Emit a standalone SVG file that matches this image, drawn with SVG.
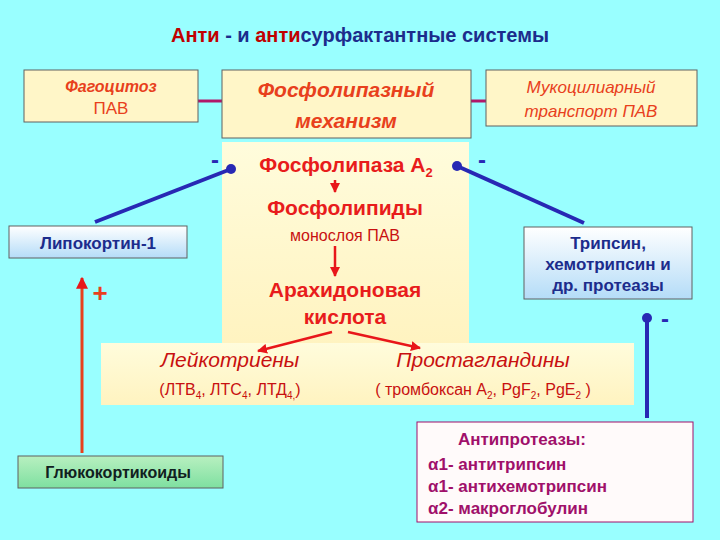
<svg xmlns="http://www.w3.org/2000/svg" width="720" height="540" viewBox="0 0 720 540">
<defs>
<marker id="ar" viewBox="0 0 10 10" refX="9" refY="5" markerWidth="4" markerHeight="4" orient="auto"><path d="M0,0L10,5L0,10z" fill="#e8161a"/></marker>
<marker id="dot" viewBox="0 0 10 10" refX="5" refY="5" markerWidth="2.5" markerHeight="2.5"><circle cx="5" cy="5" r="5" fill="#2828b4"/></marker>
<linearGradient id="pale" x1="0" y1="0" x2="0" y2="1"><stop offset="0" stop-color="#fffcdc"/><stop offset="1" stop-color="#fff3c0"/></linearGradient>
<linearGradient id="blu" x1="0" y1="0" x2="0" y2="1"><stop offset="0" stop-color="#ffffff"/><stop offset="1" stop-color="#b4dcf8"/></linearGradient>
<linearGradient id="grn" x1="0" y1="0" x2="0" y2="1"><stop offset="0" stop-color="#b8f0c0"/><stop offset="1" stop-color="#7ee0a0"/></linearGradient>
</defs>
<style>
text{font-family:"Liberation Sans",Arial,sans-serif;text-anchor:middle}
.box{stroke:#606060;stroke-width:1}
.r{fill:#e81c1c;font-weight:bold}
.ri{fill:#e8401c;font-weight:bold;font-style:italic}
.b{fill:#1c2c8c;font-weight:bold}
.bl{stroke:#2828b4;stroke-width:4;fill:none}
.rl{stroke:#e8161a;stroke-width:2.5;fill:none}
.m{fill:#a0106a;font-weight:bold;text-anchor:start}
</style>
<rect width="720" height="540" fill="#99ffff"/>
<text x="360" y="42" font-size="20" font-weight="bold"><tspan fill="#c00000">Анти</tspan><tspan fill="#1c2c8c"> - и </tspan><tspan fill="#c00000">анти</tspan><tspan fill="#1c2c8c">сурфактантные системы</tspan></text>
<rect x="222" y="142" width="247" height="203" fill="url(#pale)"/>
<rect x="101" y="343" width="533" height="62" fill="url(#pale)"/>
<g id="conn">
<line x1="198" y1="101" x2="222" y2="101" stroke="#b0186a" stroke-width="3"/>
<line x1="471" y1="101" x2="486" y2="101" stroke="#b0186a" stroke-width="3"/>
<line class="bl" x1="95" y1="222" x2="231" y2="169" marker-end="url(#dot)"/>
<line class="bl" x1="584" y1="223" x2="457" y2="166" marker-end="url(#dot)"/>
<line class="bl" x1="647" y1="418" x2="647" y2="318" marker-end="url(#dot)"/>
<line x1="82" y1="453" x2="82" y2="278" stroke="#e8401c" stroke-width="3" marker-end="url(#ar)"/>
<line class="rl" x1="335" y1="180" x2="335" y2="192" marker-end="url(#ar)"/>
<line class="rl" x1="335" y1="246" x2="335" y2="276" marker-end="url(#ar)"/>
<line class="rl" x1="332" y1="332" x2="258" y2="351" marker-end="url(#ar)"/>
<line class="rl" x1="348" y1="332" x2="420" y2="348" marker-end="url(#ar)"/>
</g>
<text x="215" y="168" font-size="24" font-weight="bold" fill="#2828b4">-</text>
<text x="482" y="168" font-size="24" font-weight="bold" fill="#2828b4">-</text>
<text x="665" y="327" font-size="24" font-weight="bold" fill="#2828b4">-</text>
<text x="100" y="302" font-size="26" font-weight="bold" fill="#e8401c">+</text>
<g id="fago"><rect class="box" x="24" y="70" width="174" height="52" fill="#fff6c8"/>
<text class="ri" x="111" y="92" font-size="16">Фагоцитоз</text><text x="111" y="114" font-size="17" fill="#e8401c">ПАВ</text></g>
<g id="phos"><rect class="box" x="222" y="70" width="249" height="68" fill="#fff6c8"/>
<text class="ri" x="346" y="97" font-size="21">Фосфолипазный</text><text class="ri" x="346" y="128" font-size="21">механизм</text></g>
<g id="muco"><rect class="box" x="486" y="70" width="211" height="56" fill="#fff6c8"/>
<text x="591" y="93" font-size="17" font-style="italic" fill="#e8401c">Мукоцилиарный</text><text x="591" y="117" font-size="17" font-style="italic" fill="#e8401c">транспорт ПАВ</text></g>
<g id="pla2"><text class="r" x="346" y="172" font-size="21" fill="#e8401c">Фосфолипаза А<tspan font-size="13" dy="5">2</tspan></text></g>
<g id="plip"><text class="r" x="345" y="215" font-size="21" fill="#c81010">Фосфолипиды</text><text x="345" y="241" font-size="16" fill="#c81010">монослоя ПАВ</text></g>
<g id="arach"><text class="r" x="345" y="297" font-size="21">Арахидоновая</text><text class="r" x="345" y="324" font-size="21">кислота</text></g>
<g id="leuk"><text x="230" y="367" font-size="21" font-style="italic" fill="#c81010">Лейкотриены</text>
<text x="230" y="395" font-size="16" fill="#c81010">(ЛТВ<tspan font-size="10" dy="4">4</tspan><tspan dy="-4">, ЛТС</tspan><tspan font-size="10" dy="4">4</tspan><tspan dy="-4">, ЛТД</tspan><tspan font-size="10" dy="4">4,</tspan><tspan dy="-4">)</tspan></text></g>
<g id="prost"><text x="483" y="367" font-size="21" font-style="italic" fill="#c81010">Простагландины</text>
<text x="483" y="395" font-size="16" fill="#c81010">( тромбоксан А<tspan font-size="10" dy="4">2</tspan><tspan dy="-4">, PgF</tspan><tspan font-size="10" dy="4">2</tspan><tspan dy="-4">, PgE</tspan><tspan font-size="10" dy="4">2</tspan><tspan dy="-4"> )</tspan></text></g>
<g id="lipo"><rect class="box" x="9" y="226" width="178" height="32" fill="url(#blu)"/><text class="b" x="98" y="249" font-size="17">Липокортин-1</text></g>
<g id="tryp"><rect class="box" x="524" y="227" width="168" height="72" fill="url(#blu)"/>
<text class="b" x="608" y="249" font-size="17">Трипсин,</text><text class="b" x="608" y="270" font-size="17">хемотрипсин и</text><text class="b" x="608" y="291" font-size="17">др. протеазы</text></g>
<g id="gluco"><rect class="box" x="18" y="456" width="205" height="32" fill="url(#grn)"/><text x="118" y="478" font-size="16" font-weight="bold" fill="#102020">Глюкокортикоиды</text></g>
<g id="anti"><rect x="417" y="422" width="276" height="100" fill="#fffafa" stroke="#a0106a"/>
<text class="m" x="458" y="445" font-size="17">Антипротеазы:</text>
<text class="m" x="428" y="470" font-size="17">α1- антитрипсин</text>
<text class="m" x="428" y="492" font-size="17">α1- антихемотрипсин</text>
<text class="m" x="428" y="514" font-size="17">α2- макроглобулин</text></g>
</svg>
